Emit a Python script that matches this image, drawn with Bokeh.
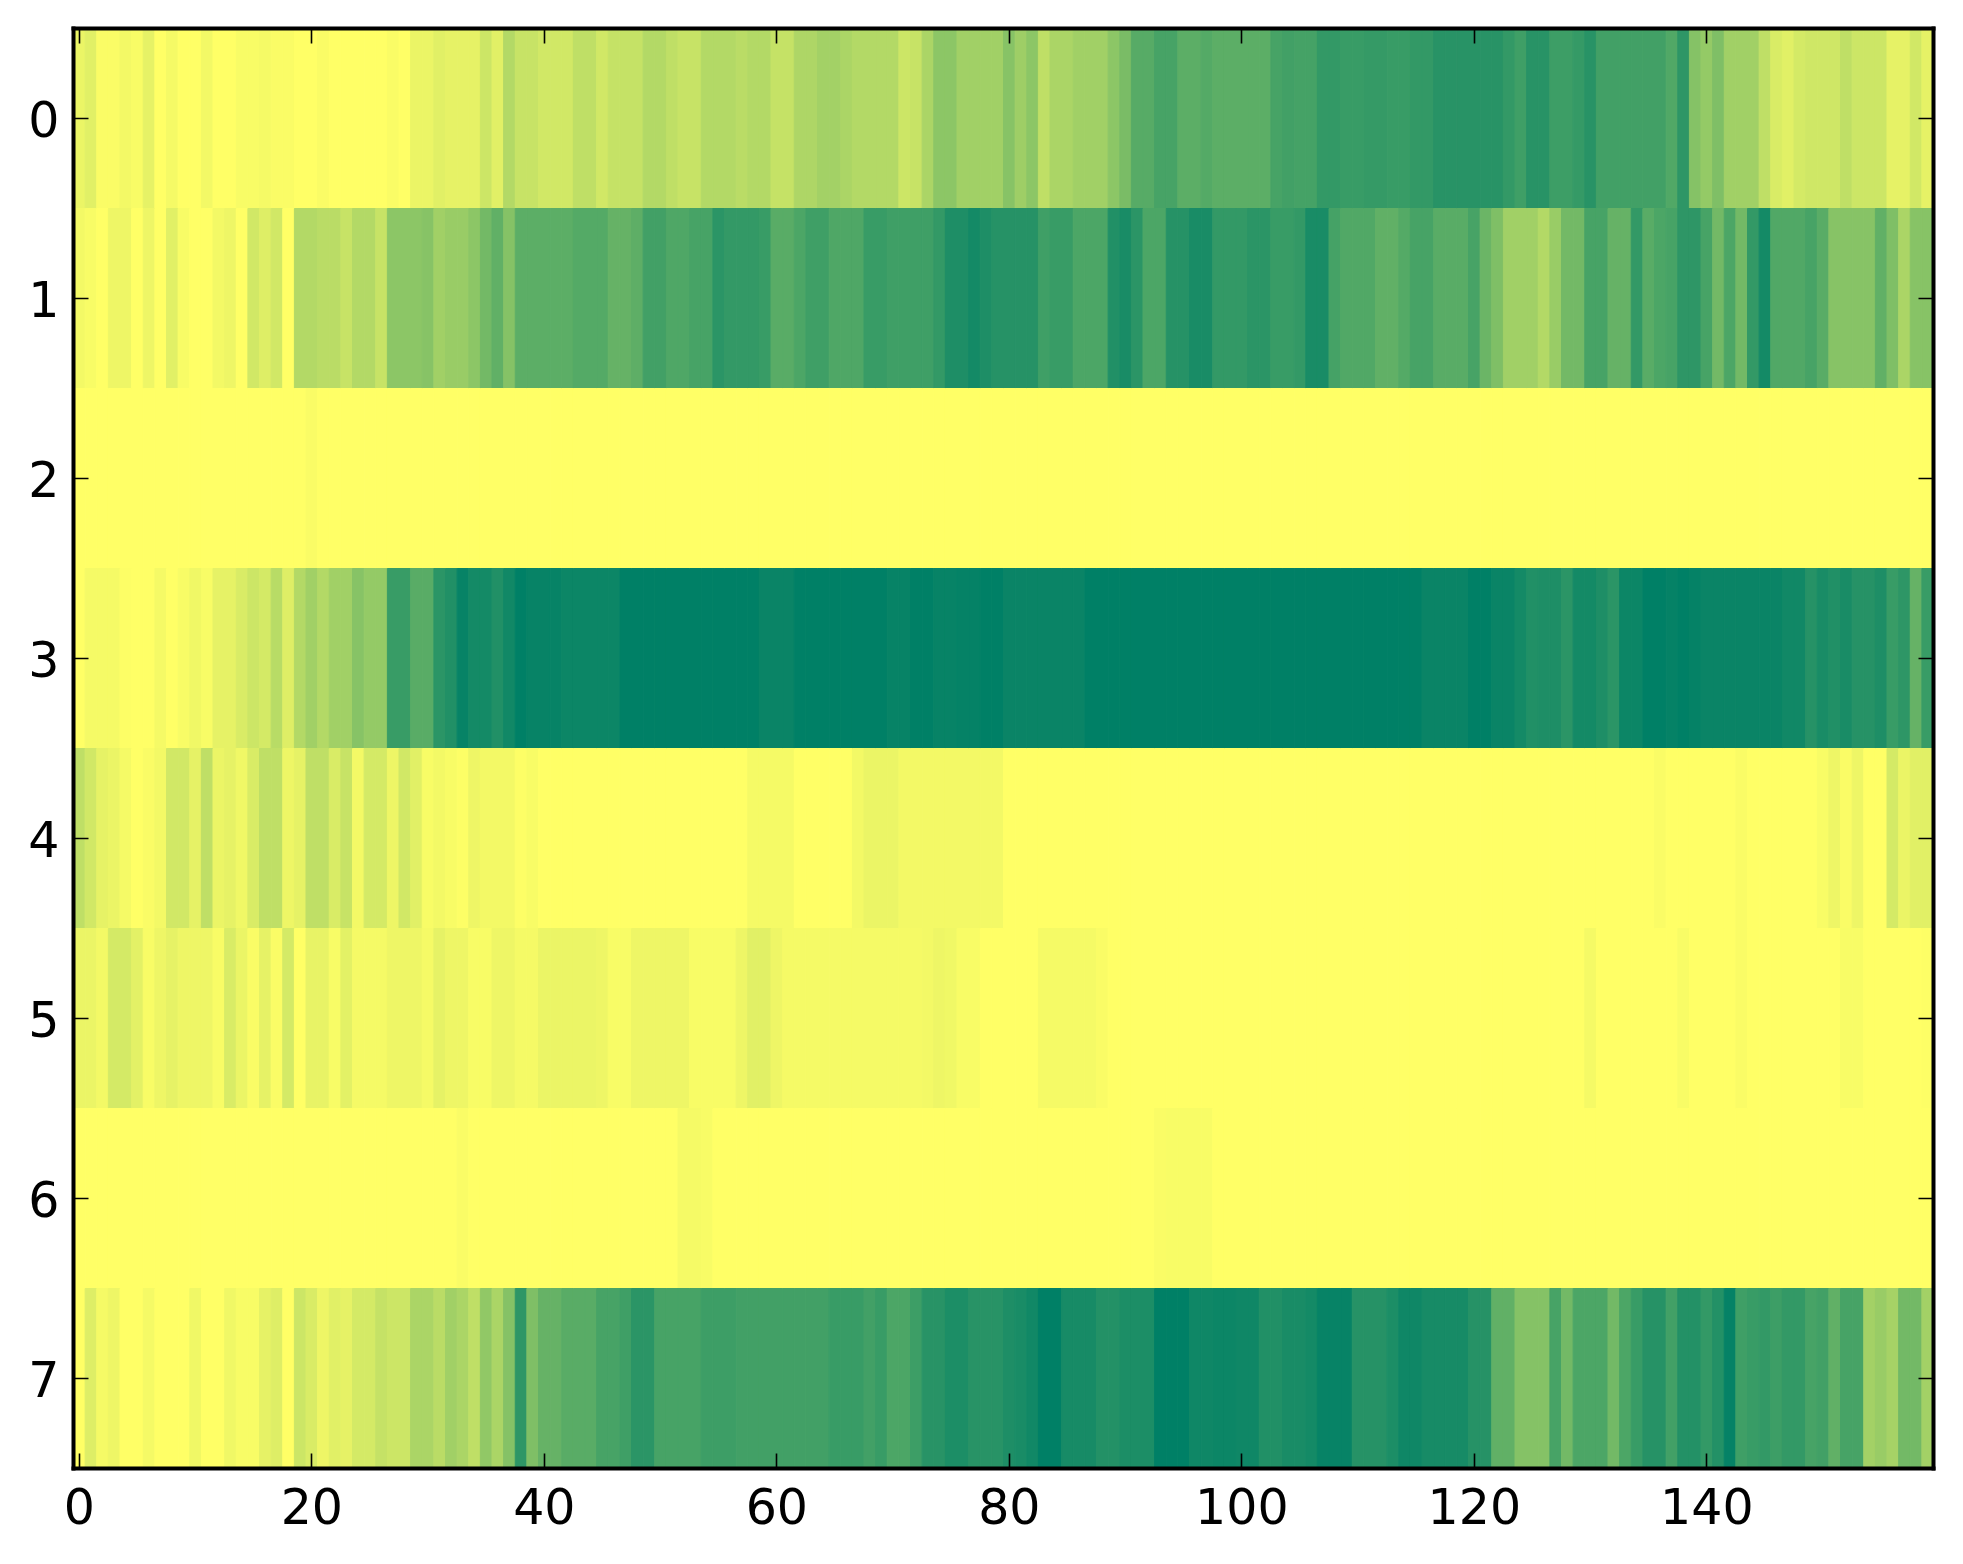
from bokeh.plotting import figure
from bokeh.models import Range1d, LinearColorMapper, LinearAxis, FixedTicker, ColumnDataSource
from bokeh.transform import transform
from bokeh.embed import file_html
from bokeh.resources import INLINE

# Heat values, 0..100 on the reversed "summer" colour scale, one list per row
row_0 = [8,12,2,2,5,3,10,0,4,0, 0,5,0,0,3,3,4,2,2,0, 0,2,0,0,0,0,0,2,0,8, 8,12,10,10,10,20,12,30,22,22,
         18,18,18,25,25,18,23,23,23,30, 30,25,22,22,30,30,30,27,30,30, 23,23,32,32,36,36,33,30,30,30, 30,20,22,33,45,45,37,37,37,37,
         47,38,45,25,33,33,37,37,37,45, 52,66,66,72,72,64,64,67,64,64, 64,64,64,72,74,73,73,80,80,78, 78,79,79,78,78,80,80,84,84,84,
         84,84,84,80,75,84,84,76,76,79, 84,74,74,74,74,74,74,68,82,48, 42,50,37,37,37,25,15,12,17,19, 19,19,25,20,20,20,10,10,18,10]
row_1 = [5,3,0,7,7,0,7,0,12,3, 0,0,5,7,0,18,13,18,0,30, 30,27,27,22,30,30,22,45,45,45, 47,37,40,40,45,55,62,48,64,64,
         64,64,64,67,67,67,60,60,63,74, 74,69,69,72,72,83,80,80,80,78, 65,65,70,75,75,69,69,69,78,78, 75,75,75,75,80,88,88,92,88,85,
         85,85,85,75,78,78,70,70,70,87, 90,83,70,70,85,85,90,90,80,80, 80,83,83,78,78,80,90,90,73,68, 68,68,62,62,67,72,72,65,65,65,
         72,58,50,37,37,37,30,40,55,55, 72,72,60,60,80,65,70,72,82,82, 72,55,70,55,80,92,68,68,68,72, 65,47,47,47,47,62,50,33,47,47]
row_2 = [0,0,0,0,0,0,0,0,0,0, 0,0,0,0,0,0,0,0,0,0, 2,0,0,0,0,0,0,0,0,0, 0,0,0,0,0,0,0,0,0,0,
         0,0,0,0,0,0,0,0,0,0, 0,0,0,0,0,0,0,0,0,0, 0,0,0,0,0,0,0,0,0,0, 0,0,0,0,0,0,0,0,0,0,
         0,0,0,0,0,0,0,0,0,0, 0,0,0,0,0,0,0,0,0,0, 0,0,0,0,0,0,0,0,0,0, 0,0,0,0,0,0,0,0,0,0,
         0,0,0,0,0,0,0,0,0,0, 0,0,0,0,0,0,0,0,0,0, 0,0,0,0,0,0,0,0,0,0, 0,0,0,0,0,0,0,0,0,0]
row_3 = [0,4,4,4,1,0,0,4,0,3, 6,3,10,10,15,20,17,28,13,30, 37,30,37,37,47,42,42,78,78,65, 65,83,87,97,92,92,87,93,100,97,
         97,97,95,95,95,95,95,100,100,100, 100,100,100,100,100,100,100,100,100,96, 96,96,100,100,100,100,100,100,100,100, 97,97,100,100,97,97,98,98,100,100,
         96,96,96,96,96,96,96,100,100,100, 100,100,100,100,100,100,100,100,100,100, 100,100,100,100,100,100,100,100,100,100, 100,100,100,100,100,100,96,96,96,96,
         100,100,96,96,92,87,88,88,83,92, 92,88,83,95,95,100,100,98,100,98, 96,96,96,96,96,96,96,93,93,85, 90,87,90,85,85,88,78,82,60,78]
row_4 = [25,18,10,8,4,0,2,5,18,18, 10,25,8,10,6,15,25,25,7,10, 25,25,15,22,5,17,17,7,18,12, 3,5,3,1,7,5,5,5,1,3,
         0,0,0,0,0,0,0,0,0,0, 0,0,0,0,0,0,0,0,4,4, 4,4,0,0,0,0,0,5,8,8, 8,5,5,5,5,5,5,5,5,5,
         0,0,0,0,0,0,0,0,0,0, 0,0,0,0,0,0,0,0,0,0, 0,0,0,0,0,0,0,0,0,0, 0,0,0,0,0,0,0,0,0,0,
         0,0,0,0,0,0,0,0,0,0, 0,0,0,0,0,0,2,0,0,0, 0,0,0,2,0,0,0,0,0,0, 3,7,2,7,0,0,17,8,12,12]
row_5 = [8,8,5,17,17,11,3,7,10,7, 7,7,3,15,8,2,10,2,17,0, 9,9,3,11,4,4,4,7,7,7, 4,10,7,7,3,3,7,7,4,4,
         8,8,8,8,8,7,3,3,7,7, 7,7,7,3,3,3,3,7,12,12, 7,4,4,4,4,4,4,4,4,4, 4,4,4,5,7,6,3,3,0,0,
         0,0,0,4,4,4,4,4,2,0, 0,0,0,0,0,0,0,0,0,0, 0,0,0,0,0,0,0,0,0,0, 0,0,0,0,0,0,0,0,0,0,
         0,0,0,0,0,0,0,0,0,0, 4,0,0,0,0,0,0,0,3,0, 0,0,0,2,0,0,0,0,0,0, 0,0,3,3,0,0,0,0,0,1]
row_6 = [0,0,0,0,0,0,0,0,0,0, 0,0,0,0,0,0,0,0,0,0, 0,0,0,0,0,0,0,0,0,0, 0,0,0,2,0,0,0,0,0,0,
         0,0,0,0,0,0,0,0,0,0, 0,0,4,4,3,0,0,0,0,0, 0,0,0,0,0,0,0,0,0,0, 0,0,0,0,0,0,0,0,0,0,
         0,0,0,0,0,0,0,0,0,0, 0,0,0,2,3,3,3,3,0,0, 0,0,0,0,0,0,0,0,0,0, 0,0,0,0,0,0,0,0,0,0,
         0,0,0,0,0,0,0,0,0,0, 0,0,0,0,0,0,0,0,0,0, 0,0,0,0,0,0,0,0,0,0, 0,0,0,0,0,0,0,0,0,0]
row_7 = [0,13,4,7,0,0,4,0,0,0, 6,0,0,6,3,3,10,13,0,20, 15,7,12,10,17,17,23,20,20,33, 33,27,37,33,25,43,33,48,82,50,
         60,60,65,65,65,72,72,75,83,83, 72,72,72,72,76,76,76,74,74,74, 74,74,74,74,74,78,78,78,74,78, 70,70,76,84,84,89,89,84,84,84,
         88,90,93,100,100,91,91,91,86,86, 89,89,89,100,100,100,94,94,95,95, 94,94,87,87,90,90,92,97,97,97, 85,85,85,89,94,94,91,91,91,91,
         85,85,62,62,48,48,48,72,55,70, 70,70,55,70,78,85,85,74,86,86, 80,86,98,75,78,80,76,80,80,72, 74,62,72,72,36,40,35,55,55,36]

rows = [row_0, row_1, row_2, row_3, row_4, row_5, row_6, row_7]
x_tick_values = [0, 20, 40, 60, 80, 100, 120, 140]
y_tick_values = [0, 1, 2, 3, 4, 5, 6, 7]

# summer_r colour map
palette = []
for i in range(256):
    t = 1 - i / 255
    palette.append("#%02x%02x%02x" % (round(255 * t), round(255 * (0.5 + 0.5 * t)), 102))
mapper = LinearColorMapper(palette=palette, low=0, high=100)

xs, ys, vs = [], [], []
for r, row in enumerate(rows):
    for c, v in enumerate(row):
        xs.append(c); ys.append(r); vs.append(v)
source = ColumnDataSource(dict(x=xs, y=ys, v=vs))

p = figure(width=1947, height=1548, output_backend="svg", toolbar_location=None,
           x_range=Range1d(-0.5, 159.5), y_range=Range1d(7.5, -0.5),
           x_axis_location=None, y_axis_location=None,
           background_fill_color="white", border_fill_color="white",
           min_border_left=73, min_border_right=14, min_border_top=28, min_border_bottom=80)
p.frame_width = 1860
p.frame_height = 1440
p.grid.visible = False
p.rect("x", "y", width=1, height=1, source=source,
       fill_color=transform("v", mapper), line_color=transform("v", mapper), line_width=1)

def make_axis(ticks, labels, standoff):
    a = LinearAxis(ticker=FixedTicker(ticks=ticks))
    a.axis_line_color = "black"
    a.axis_line_width = 4
    a.axis_line_cap = "square"
    a.major_tick_in = 15
    a.major_tick_out = 0
    a.major_tick_line_color = "black"
    a.major_tick_line_width = 1.6
    a.minor_tick_line_color = None
    a.major_label_standoff = standoff
    a.major_label_text_font = "DejaVu Sans"
    a.major_label_text_font_size = "49px" if labels else "0px"
    a.major_label_text_color = "black"
    if not labels:
        a.major_label_text_color = None
    return a

p.add_layout(make_axis(x_tick_values, True, 19), "below")
p.add_layout(make_axis(y_tick_values, True, 14), "left")
p.add_layout(make_axis(x_tick_values, False, 0), "above")
p.add_layout(make_axis(y_tick_values, False, 0), "right")

p.outline_line_color = None

open("out.html", "w").write(file_html(p, INLINE))
